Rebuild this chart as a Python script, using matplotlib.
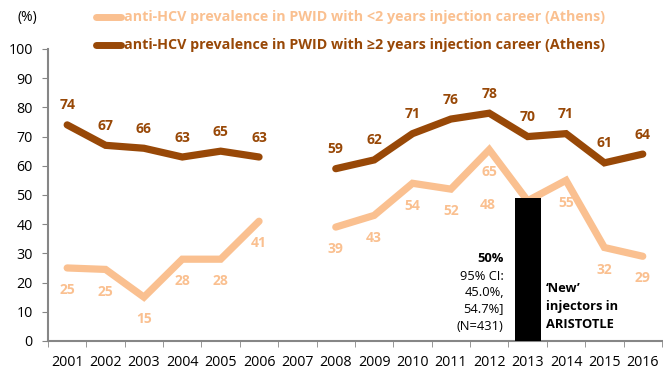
import numpy as np
import matplotlib
matplotlib.use('Agg')
import matplotlib.pyplot as plt
from matplotlib.lines import Line2D

plt.rcParams['font.family'] = ['Open Sans', 'DejaVu Sans']

years = ['2001', '2002', '2003', '2004', '2005', '2006', '2007', '2008',
         '2009', '2010', '2011', '2012', '2013', '2014', '2015', '2016']
new_inj = [25, 24.5, 15, 28, 28, 41, np.nan, 39, 43, 54, 52, 65.5, 48, 55, 32, 29]
old_inj = [74, 67, 66, 63, 65, 63, np.nan, 59, 62, 71, 76, 78, 70, 71, 61, 64]
new_lbl = ['25', '25', '15', '28', '28', '41', '', '39', '43', '54', '52', '65', '48', '55', '32', '29']
old_lbl = ['74', '67', '66', '63', '65', '63', '', '59', '62', '71', '76', '78', '70', '71', '61', '64']
aristotle_year = '2013'
aristotle_val = 49

light = '#FAC090'
dark = '#984807'
grey = '#868686'

fig = plt.figure(figsize=(6.63, 3.71), dpi=100)
ax = fig.add_axes([0.0724, 0.081, 0.926, 0.787])
x = np.arange(len(years))

ax.plot(x, new_inj, color=light, lw=5.2, solid_capstyle='round', solid_joinstyle='miter', zorder=2)
ax.plot(x, old_inj, color=dark, lw=5.2, solid_capstyle='round', solid_joinstyle='miter', zorder=2)

bx = years.index(aristotle_year)
ax.bar(bx, aristotle_val, width=0.68, color='black', zorder=3)

for i in range(len(years)):
    if old_lbl[i]:
        ax.annotate(old_lbl[i], (x[i], old_inj[i]), xytext=(0, 14), textcoords='offset points',
                    ha='center', va='center', color=dark, fontsize=10, fontweight='bold')
    if new_lbl[i]:
        dx, dy = (0, -16)
        if years[i] == aristotle_year:
            dx, dy = (-29, -3)
        ax.annotate(new_lbl[i], (x[i], new_inj[i]), xytext=(dx, dy), textcoords='offset points',
                    ha='center', va='center', color=light, fontsize=10, fontweight='bold')

# annotation next to bar
tx = bx - 0.62
fs = 9.3
ax.text(tx, 28.3, '50%', ha='right', va='center', fontsize=fs, fontweight='bold')
ax.text(tx, 22, '95% CI:', ha='right', va='center', fontsize=fs)
ax.text(tx, 16.5, '45.0%,', ha='right', va='center', fontsize=fs)
ax.text(tx, 11, '54.7%]', ha='right', va='center', fontsize=fs)
ax.text(tx, 4.8, '(N=431)', ha='right', va='center', fontsize=fs)
ax.text(bx + 0.47, 18, '\u2018New\u2019', ha='left', va='center', fontsize=fs, fontweight='bold')
ax.text(bx + 0.47, 11.8, 'injectors in', ha='left', va='center', fontsize=fs, fontweight='bold')
ax.text(bx + 0.47, 5.8, 'ARISTOTLE', ha='left', va='center', fontsize=fs, fontweight='bold')

ax.set_xlim(-0.5, len(years) - 0.5)
ax.set_ylim(0, 100)
ax.set_yticks(np.arange(0, 101, 10))
ax.set_xticks(x)
ax.set_xticklabels(years)
ax.set_xticks(np.arange(-0.5, len(years), 1), minor=True)
ax.tick_params(axis='x', which='major', length=0, pad=10, labelsize=10.3)
ax.tick_params(axis='x', which='minor', length=4, color=grey, direction='out')
ax.tick_params(axis='y', length=4, color=grey, direction='out', labelsize=10.3, pad=7)
for s in ['top', 'right']:
    ax.spines[s].set_visible(False)
for s in ['left', 'bottom']:
    ax.spines[s].set_color(grey)
    ax.spines[s].set_linewidth(1.5)

fig.text(0.027, 0.954, '(%)', ha='left', va='center', fontsize=10)

# legend
for yy, col, txt in [(0.954, light, 'anti-HCV prevalence in PWID with <2 years injection career (Athens)'),
                     (0.879, dark, 'anti-HCV prevalence in PWID with \u22652 years injection career (Athens)')]:
    fig.add_artist(Line2D([0.145, 0.182], [yy, yy], color=col, lw=5, solid_capstyle='round',
                          transform=fig.transFigure))
    fig.text(0.187, yy, txt, ha='left', va='center', color=col, fontsize=10.3, fontweight='bold')

fig.savefig('out.png', dpi=100)
